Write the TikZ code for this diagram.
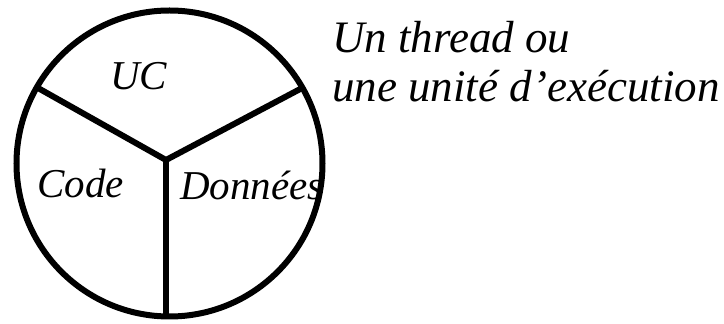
\documentclass[tikz,border=0pt]{standalone}
\usepackage{fontspec}
\setmainfont{Liberation Serif}
\usepackage{tikz}
\usetikzlibrary{positioning}

\begin{document}
\begin{tikzpicture}[x=1pt,y=1pt,
  trait/.style={draw=black,line width=6pt},
  zone/.style={font=\fontsize{41}{47}\selectfont\itshape,
    inner sep=0pt,anchor=base west},
  legende/.style={font=\fontsize{45}{49}\selectfont\itshape,
    inner sep=0pt,anchor=base west}
]
\useasboundingbox (0,0) rectangle (724,324);
\node[trait,circle,minimum size=306pt,inner sep=0pt] (proc) at (169.5,160.5) {};
\coordinate (centre) at (166,164);
\coordinate (bordG) at (38,236);
\coordinate (bordD) at (304,237);
\draw[trait] (bordG) -- (centre) -- (bordD);
\draw[trait] (centre) -- (centre |- proc.south);
% Noms des trois parties
\node[zone] (uc)   at (110,234) {UC};
\node[zone] (code) at (37,126)  {Code};
\node[zone] (data) at (180,124) {Données};
\node[legende] (ligne1) at (332,271) {Un thread ou};
\node[legende] (ligne2) at (332,222) {une unité d’exécution};
\end{tikzpicture}
\end{document}
